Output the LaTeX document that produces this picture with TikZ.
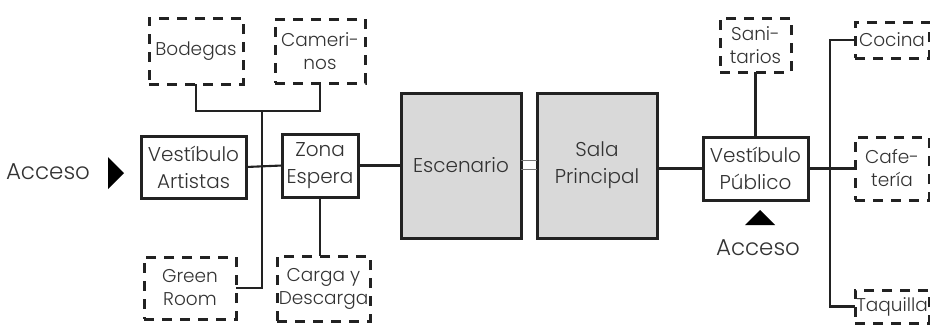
\documentclass[tikz,border=0pt]{standalone}
\usepackage{fontspec}
\IfFontExistsTF{Poppins Light}{\setmainfont{Poppins Light}}{\setmainfont{Poppins}}
\usetikzlibrary{calc}
\definecolor{ink}{HTML}{222222}
\definecolor{txt}{HTML}{333333}
\definecolor{boxgray}{HTML}{D9D9D9}
\definecolor{dbl}{HTML}{777777}
\begin{document}
\begin{tikzpicture}[x=1pt,y=-1pt,
  every node/.style={inner sep=0pt,outer sep=0pt,text=txt,align=center},
  solidbox/.style={draw=ink,line width=3pt,fill=white,font=\fontsize{20}{27}\selectfont},
  graybox/.style={draw=ink,line width=3pt,fill=boxgray,font=\fontsize{20}{27}\selectfont},
  dashbox/.style={draw=ink,line width=3pt,dash pattern=on 10pt off 8pt,fill=white,font=\fontsize{18.5}{23}\selectfont},
  conn/.style={draw=ink,line width=2.1pt},
  dblconn/.style={draw=dbl,line width=1.7pt},
  lbl/.style={font=\fontsize{23}{28}\selectfont}]
\useasboundingbox (0,0) rectangle (930,327);
% main boxes
\node[solidbox,minimum width=105pt,minimum height=62pt] (va) at (193.5,167) {Vestíbulo\\Artistas};
\node[solidbox,minimum width=76pt,minimum height=63pt] (ze) at (320,165.5) {Zona\\Espera};
\node[graybox,minimum width=120pt,minimum height=145pt] (esc) at (461,165.5) {Escenario};
\node[graybox,minimum width=120pt,minimum height=145pt] (sala) at (597,165.5) {Sala\\Principal};
\node[solidbox,minimum width=105pt,minimum height=63pt] (vp) at (755.5,168.5) {Vestíbulo\\Público};
% dashed boxes
\node[dashbox,minimum width=94pt,minimum height=66pt] (bod) at (196,51) {Bodegas};
\node[dashbox,minimum width=90pt,minimum height=64pt] (cam) at (320,51) {Cameri-\\nos};
\node[dashbox,minimum width=92pt,minimum height=62pt] (grn) at (190,288) {Green\\Room};
\node[dashbox,minimum width=93pt,minimum height=65pt] (car) at (323.5,288.5) {Carga y\\Descarga};
\node[dashbox,minimum width=71pt,minimum height=54pt] (san) at (755.5,45) {Sani-\\tarios};
\node[dashbox,minimum width=74pt,minimum height=36pt] (coc) at (892,40) {Cocina};
\node[dashbox,minimum width=74pt,minimum height=63pt] (caf) at (892,168.5) {Cafe-\\tería};
\node[dashbox,minimum width=74pt,minimum height=33pt] (taq) at (892,306.5) {Taquilla};
% labels
\node[lbl] (acc1) at (48,172) {Acceso};
\node[lbl] (acc2) at (758,248) {Acceso};
% junctions
\coordinate (j1) at (262,111);
\coordinate (bx) at (830,168);
% connectors
\draw[conn] (bod.south) |- (j1) -| (cam.south);
\draw[conn] (j1) |- (grn.east);
\draw[conn] (va.east) -- (ze.west);
\draw[conn] (ze.south) -- (ze.south |- car.north);
\draw[conn] (ze.east |- esc.west) -- (esc.west);
\draw[dblconn] ([yshift=-4pt]esc.east) -- ([yshift=-4pt]esc.east -| sala.west);
\draw[dblconn] ([yshift=5pt]esc.east) -- ([yshift=5pt]esc.east -| sala.west);
\draw[conn] (sala.east |- vp.west) -- (vp.west);
\draw[conn] (san.south) -- (vp.north);
\draw[conn] (vp.east) -- (caf.west);
\draw[conn] (coc.west) -| (bx) |- (taq.west);
% access markers
\fill[black] (108,157) -- (124,173) -- (108,189) -- cycle;
\fill[black] (745,225) -- (760,210) -- (775,225) -- cycle;
\end{tikzpicture}
\end{document}
